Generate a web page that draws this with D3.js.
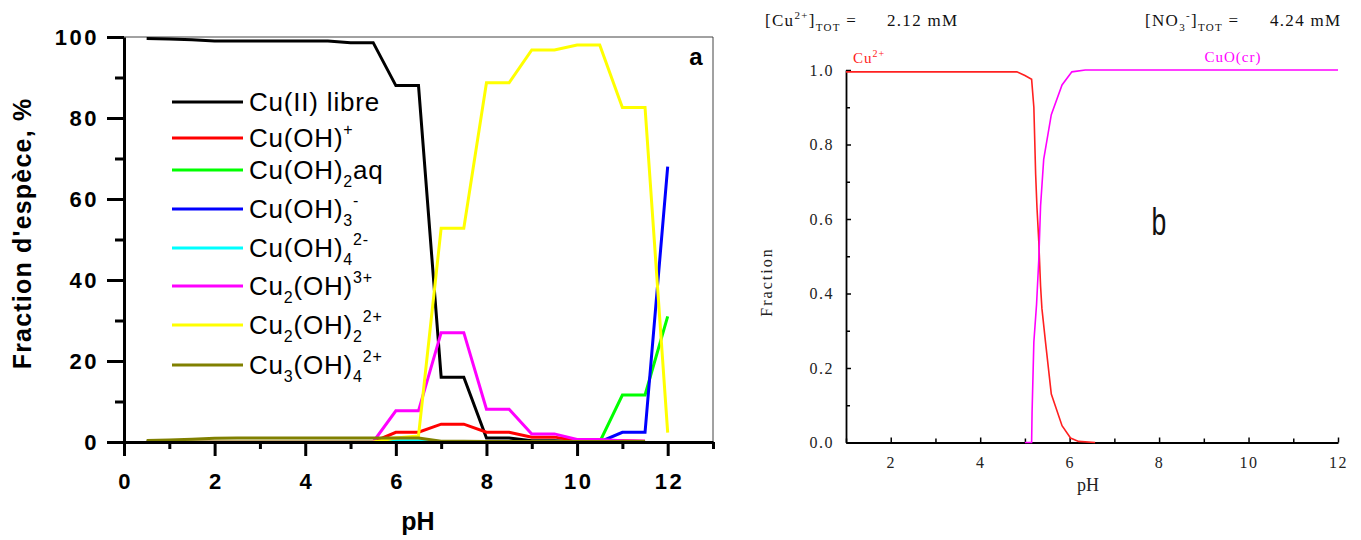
<!DOCTYPE html>
<html><head><meta charset="utf-8">
<script src="https://cdn.jsdelivr.net/npm/d3@7"></script>
<style>
html,body{margin:0;padding:0;background:#fff;}
svg{display:block;}
</style></head>
<body>
<svg id="chart" width="1361" height="540"></svg>
<script>
// ---------- Data: panel a ----------
const pH = [0.5,1,1.5,2,2.5,3,3.5,4,4.5,5,5.5,6,6.5,7,7.5,8,8.5,9,9.5,10,10.5,11,11.5,12];
const cuLibre  = [99.6,99.5,99.3,99.0,99.0,99.0,99.0,99.0,99.0,98.6,98.6,88,88,16,16,1,1,0.3,0.3,0.1,0.1,0,0,null];
const cuOH     = [0,0,0,0,0,0,0,0,0,0,0,2.4,2.4,4.4,4.4,2.4,2.4,1.2,1.2,0.4,0.4,0.3,0.2,null];
const cuOH2aq  = [0,0,0,0,0,0,0,0,0,0,0,0,0,0,0,0,0,0,0,0,0,11.6,11.6,31];
const cuOH3    = [0,0,0,0,0,0,0,0,0,0,0,0,0,0,0,0,0,0,0,0,0,2.4,2.4,68];
const cuOH4    = [0,0,0,0,0,0,0,0,0,0,0,0.3,0.3,0.1,0,0,0,0,0,0,0,0,0,null];
const cu2OH    = [0,0,0,0,0,0,0,0,0,0,0,7.7,7.7,27,27,8.1,8.1,2,2,0.6,0.6,0.3,0.2,null];
const cu2OH2   = [0,0,0,0,0,0,0,0,0,0,0,1.0,1.5,52.8,52.8,88.7,88.7,96.8,96.8,98,98,82.6,82.6,2.3];
const cu3OH4   = [0.4,0.5,0.7,0.9,1.0,1.0,1.0,1.0,1.0,1.0,1.0,1.0,1.0,0.2,0.2,0.1,0.1,0.1,0.1,0.1,0.1,0.1,0.1,null];
const seriesA  = [cuLibre,cuOH,cuOH2aq,cuOH3,cuOH4,cu2OH,cu2OH2,cu3OH4];
const colorsA  = ["#000000","#ff0000","#00ff00","#0000ff","#00ffff","#ff00ff","#ffff00","#808000"];
// legend names as [text, style] segments (n = normal, sub, sup)
const namesA = [
  [["Cu(II) libre","n"]],
  [["Cu(OH)","n"],["+","sup"]],
  [["Cu(OH)","n"],["2","sub"],["aq","n"]],
  [["Cu(OH)","n"],["3","sub"],["-","sup"]],
  [["Cu(OH)","n"],["4","sub"],["2-","sup"]],
  [["Cu","n"],["2","sub"],["(OH)","n"],["3+","sup"]],
  [["Cu","n"],["2","sub"],["(OH)","n"],["2","sub"],["2+","sup"]],
  [["Cu","n"],["3","sub"],["(OH)","n"],["4","sub"],["2+","sup"]]
];
const xTicksA = [0,2,4,6,8,10,12];
const xMinorA = [1,3,5,7,9,11,13];
const yTicksA = [0,20,40,60,80,100];
const yMinorA = [10,30,50,70,90];

// ---------- Data: panel b ----------
const pHcu2  = [1,2,3,4,4.82,5.0,5.15,5.2,5.24,5.27,5.31,5.35,5.38,5.46,5.59,5.83,6.02,6.2,6.57];
const cu2    = [0.995,0.995,0.995,0.995,0.995,0.985,0.975,0.90,0.72,0.63,0.54,0.42,0.36,0.27,0.13,0.045,0.012,0.003,0];
const pHcuo  = [5.0,5.15,5.16,5.2,5.26,5.31,5.35,5.42,5.59,5.83,6.05,6.35,12];
const cuo    = [0,0,0.08,0.27,0.37,0.49,0.635,0.76,0.88,0.96,0.995,1.0,1.0];
const xTicksB = [2,4,6,8,10,12];
const xMinorB = [1,3,5,7,9,11];
const yTicksB = [0,0.2,0.4,0.6,0.8,1.0];
const yMinorB = [0.1,0.3,0.5,0.7,0.9];

const svg = d3.select("#chart");
const sans = "'Liberation Sans', Arial, sans-serif";
const serif = "'Liberation Serif', 'Times New Roman', serif";

// ================= Panel a =================
const xA = d3.scaleLinear().domain([0,13]).range([124,713]);
const yA = d3.scaleLinear().domain([0,100]).range([442,37]);
const gA = svg.append("g");

// frame (thin top and right)
gA.append("line").attr("x1",xA(0)).attr("x2",xA(13)).attr("y1",yA(100)).attr("y2",yA(100))
  .attr("stroke","#444").attr("stroke-width",1);
gA.append("line").attr("x1",xA(13)).attr("x2",xA(13)).attr("y1",yA(100)).attr("y2",yA(0))
  .attr("stroke","#444").attr("stroke-width",1);

// lines
const lineA = d3.line().defined(d=>d[1]!==null).x(d=>xA(d[0])).y(d=>yA(d[1]));
seriesA.forEach((s,i)=>{
  gA.append("path").datum(pH.map((p,j)=>[p,s[j]]))
    .attr("d",lineA).attr("fill","none").attr("stroke",colorsA[i])
    .attr("stroke-width",3).attr("stroke-linejoin","miter");
});

function styleAxisA(g){
  g.select(".domain").attr("stroke","#000").attr("stroke-width",3);
  g.selectAll(".tick line").attr("stroke","#000").attr("stroke-width",3);
  g.selectAll(".tick text").attr("font-family",sans).attr("font-weight","bold")
    .attr("font-size",22).attr("letter-spacing",2.5).attr("fill","#000");
}
const axLeftA = gA.append("g").attr("transform",`translate(${xA(0)},0)`)
  .call(d3.axisLeft(yA).tickValues(yTicksA).tickSize(17).tickPadding(8).tickSizeOuter(0));
styleAxisA(axLeftA);
const axLeftMinA = gA.append("g").attr("transform",`translate(${xA(0)},0)`)
  .call(d3.axisLeft(yA).tickValues(yMinorA).tickSize(9).tickFormat(""));
axLeftMinA.select(".domain").remove();
axLeftMinA.selectAll(".tick line").attr("stroke","#000").attr("stroke-width",3);

const axBotA = gA.append("g").attr("transform",`translate(0,${yA(0)})`)
  .call(d3.axisBottom(xA).tickValues(xTicksA).tickSize(14).tickPadding(17).tickSizeOuter(0));
styleAxisA(axBotA);
axBotA.selectAll(".tick text").attr("dx",1.2);
const axBotMinA = gA.append("g").attr("transform",`translate(0,${yA(0)})`)
  .call(d3.axisBottom(xA).tickValues(xMinorA).tickSize(7).tickFormat(""));
axBotMinA.select(".domain").remove();
axBotMinA.selectAll(".tick line").attr("stroke","#000").attr("stroke-width",3);

// axis titles
gA.append("text").attr("x",418).attr("y",530).attr("text-anchor","middle")
  .attr("font-family",sans).attr("font-weight","bold").attr("font-size",25).text("pH");
gA.append("text").attr("transform",`translate(31,${(yA(0)+yA(100))/2 - 6}) rotate(-90)`)
  .attr("text-anchor","middle").attr("font-family",sans).attr("font-weight","bold")
  .attr("font-size",25).attr("letter-spacing",1.2).text("Fraction d'espèce, %");
gA.append("text").attr("x",696).attr("y",65).attr("text-anchor","middle")
  .attr("font-family",sans).attr("font-weight","bold").attr("font-size",24).text("a");

// legend
const legRowY = [102,138,170,209,248,286,325,365];
const legend = gA.append("g");
namesA.forEach((segs,i)=>{
  const y = legRowY[i];
  legend.append("line").attr("x1",172).attr("x2",243).attr("y1",y).attr("y2",y)
    .attr("stroke",colorsA[i]).attr("stroke-width",3);
  const t = legend.append("text").attr("x",249).attr("y",y+9)
    .attr("font-family",sans).attr("font-size",26).attr("letter-spacing",0.8).attr("fill","#000");
  let cur = 0;
  segs.forEach(([txt,st])=>{
    const target = st==="sub"?8:(st==="sup"?-12:0);
    t.append("tspan").attr("dy",target-cur).attr("font-size",st==="n"?26:16).text(txt);
    cur = target;
  });
});

// ================= Panel b =================
const xB = d3.scaleLinear().domain([1,12]).range([846,1338]);
const yB = d3.scaleLinear().domain([0,1]).range([442.5,70]);
const gB = svg.append("g");

function styleAxisB(g){
  g.select(".domain").attr("stroke","#000").attr("stroke-width",1.8);
  g.selectAll(".tick line").attr("stroke","#000").attr("stroke-width",1.5);
  g.selectAll(".tick text").attr("font-family",serif).attr("font-size",16)
    .attr("letter-spacing",1.5).attr("fill","#222");
}
const axLeftB = gB.append("g").attr("transform",`translate(${xB(1)},0)`)
  .call(d3.axisLeft(yB).tickValues(yTicksB).tickSize(-5).tickPadding(12).tickSizeOuter(0)
    .tickFormat(d3.format(".1f")));
styleAxisB(axLeftB);
const axLeftMinB = gB.append("g").attr("transform",`translate(${xB(1)},0)`)
  .call(d3.axisLeft(yB).tickValues(yMinorB).tickSize(-4).tickFormat(""));
axLeftMinB.select(".domain").remove();
axLeftMinB.selectAll(".tick line").attr("stroke","#000").attr("stroke-width",1.5);

const axBotB = gB.append("g").attr("transform",`translate(0,${yB(0)})`)
  .call(d3.axisBottom(xB).tickValues(xTicksB).tickSize(-5).tickPadding(14).tickSizeOuter(0));
styleAxisB(axBotB);
const axBotMinB = gB.append("g").attr("transform",`translate(0,${yB(0)})`)
  .call(d3.axisBottom(xB).tickValues(xMinorB).tickSize(-4).tickFormat(""));
axBotMinB.select(".domain").remove();
axBotMinB.selectAll(".tick line").attr("stroke","#000").attr("stroke-width",1.5);

const lineB = d3.line().x(d=>xB(d[0])).y(d=>yB(d[1]));
gB.append("path").datum(pHcu2.map((p,j)=>[p,cu2[j]])).attr("d",lineB)
  .attr("fill","none").attr("stroke","#ff2020").attr("stroke-width",1.6);
gB.append("path").datum(pHcuo.map((p,j)=>[p,cuo[j]])).attr("d",lineB)
  .attr("fill","none").attr("stroke","#ff00ff").attr("stroke-width",1.6);

// labels
gB.append("text").attr("x",1088).attr("y",491).attr("text-anchor","middle")
  .attr("font-family",serif).attr("font-size",18).attr("fill","#222").text("pH");
gB.append("text").attr("transform","translate(772,282) rotate(-90)").attr("text-anchor","middle")
  .attr("font-family",serif).attr("font-size",16).attr("letter-spacing",2).attr("fill","#222").text("Fraction");
gB.append("text").attr("transform","translate(1159,235) scale(0.7,1)").attr("text-anchor","middle")
  .attr("font-family",sans).attr("font-size",38).attr("fill","#111").text("b");

const c2 = gB.append("text").attr("x",853).attr("y",63).attr("font-family",serif)
  .attr("font-size",15).attr("letter-spacing",1).attr("fill","#ff2020");
c2.append("tspan").text("Cu");
c2.append("tspan").attr("dy",-6).attr("font-size",10).text("2+");
gB.append("text").attr("x",1233).attr("y",62).attr("text-anchor","middle").attr("font-family",serif)
  .attr("font-size",15).attr("letter-spacing",1).attr("fill","#ff00ff").text("CuO(cr)");

// header concentrations
function header(x, xv, parts, value){
  const t = gB.append("text").attr("x",x).attr("y",26).attr("font-family",serif)
    .attr("font-size",17).attr("letter-spacing",1.3).attr("fill","#111");
  let cur=0;
  parts.forEach(([txt,st])=>{
    const target = st==="sub"?5:(st==="sup"?-7:0);
    t.append("tspan").attr("dy",target-cur).attr("font-size",st==="n"?17:11).text(txt);
    cur=target;
  });
  gB.append("text").attr("x",xv).attr("y",26).attr("font-family",serif)
    .attr("font-size",17).attr("letter-spacing",1.3).attr("fill","#111").text(value);
}
header(765, 887, [["[Cu","n"],["2+","sup"],["]","n"],["TOT","sub"],[" =","n"]], "2.12 mM");
header(1145, 1270, [["[NO","n"],["3","sub"],["-","sup"],["]","n"],["TOT","sub"],[" =","n"]], "4.24 mM");
</script>
</body></html>
